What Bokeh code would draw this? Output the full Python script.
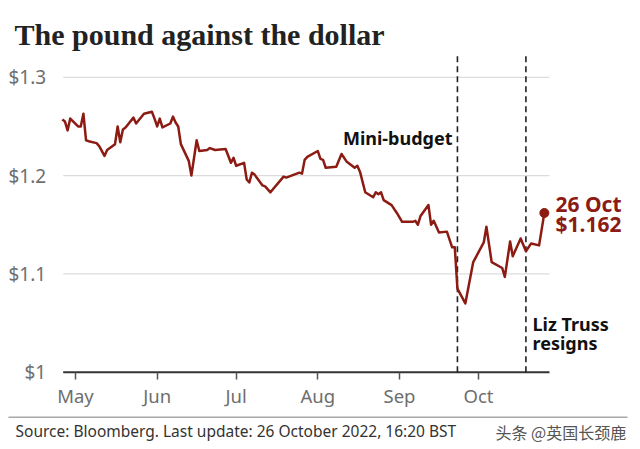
import pandas as pd
from bokeh.plotting import figure
from bokeh.models import Range1d, FixedTicker, Label, LinearAxis, DatetimeAxis
from bokeh.embed import file_html
from bokeh.resources import INLINE

# ---------------- data ----------------
dates = ["2022-04-26", "2022-04-27", "2022-04-28", "2022-04-29", "2022-05-02", "2022-05-03",
         "2022-05-04", "2022-05-05", "2022-05-06", "2022-05-09", "2022-05-10", "2022-05-12",
         "2022-05-13", "2022-05-16", "2022-05-17", "2022-05-18", "2022-05-19", "2022-05-20",
         "2022-05-23", "2022-05-24", "2022-05-27", "2022-05-30", "2022-05-31", "2022-06-01",
         "2022-06-02", "2022-06-03", "2022-06-06", "2022-06-07", "2022-06-08", "2022-06-09",
         "2022-06-10", "2022-06-13", "2022-06-14", "2022-06-16", "2022-06-17", "2022-06-20",
         "2022-06-21", "2022-06-23", "2022-06-27", "2022-06-29", "2022-06-30", "2022-07-01",
         "2022-07-04", "2022-07-05", "2022-07-06", "2022-07-07", "2022-07-08", "2022-07-11",
         "2022-07-12", "2022-07-14", "2022-07-19", "2022-07-20", "2022-07-25", "2022-07-26",
         "2022-07-27", "2022-07-28", "2022-08-01", "2022-08-02", "2022-08-03", "2022-08-04",
         "2022-08-08", "2022-08-10", "2022-08-12", "2022-08-15", "2022-08-16", "2022-08-17",
         "2022-08-19", "2022-08-22", "2022-08-23", "2022-08-24", "2022-08-25", "2022-08-26",
         "2022-08-29", "2022-08-31", "2022-09-02", "2022-09-06", "2022-09-07", "2022-09-08",
         "2022-09-09", "2022-09-12", "2022-09-13", "2022-09-14", "2022-09-16", "2022-09-19",
         "2022-09-21", "2022-09-22", "2022-09-23", "2022-09-26", "2022-09-29", "2022-10-03",
         "2022-10-04", "2022-10-06", "2022-10-10", "2022-10-11", "2022-10-13", "2022-10-14",
         "2022-10-17", "2022-10-19", "2022-10-21", "2022-10-24", "2022-10-26"]
gbp_usd = [1.257, 1.255, 1.246, 1.258, 1.250, 1.250,
           1.263, 1.236, 1.235, 1.233, 1.230, 1.220,
           1.226, 1.232, 1.250, 1.234, 1.247, 1.249,
           1.259, 1.253, 1.263, 1.265, 1.258, 1.250,
           1.258, 1.249, 1.253, 1.260, 1.254, 1.250,
           1.232, 1.215, 1.200, 1.236, 1.225, 1.226,
           1.228, 1.226, 1.227, 1.213, 1.218, 1.210,
           1.213, 1.196, 1.193, 1.203, 1.201, 1.190,
           1.189, 1.183, 1.199, 1.198, 1.203, 1.202,
           1.216, 1.219, 1.225, 1.217, 1.216, 1.208,
           1.209, 1.222, 1.214, 1.208, 1.210, 1.204,
           1.183, 1.178, 1.183, 1.181, 1.183, 1.175,
           1.170, 1.162, 1.153, 1.153, 1.154, 1.150,
           1.159, 1.170, 1.150, 1.154, 1.142, 1.143,
           1.127, 1.127, 1.085, 1.070, 1.112, 1.132,
           1.148, 1.112, 1.106, 1.097, 1.133, 1.118,
           1.136, 1.123, 1.131, 1.129, 1.162]

y_ticks = [1.0, 1.1, 1.2, 1.3]
y_tick_labels = ["$1", "$1.1", "$1.2", "$1.3"]
month_ticks = ["2022-05-01", "2022-06-01", "2022-07-01", "2022-08-01", "2022-09-01", "2022-10-01"]
month_labels = ["May", "Jun", "Jul", "Aug", "Sep", "Oct"]

event_dates = ["2022-09-23", "2022-10-19"]
title_text = "The pound against the dollar"
last_date_label = "26 Oct"
last_value_label = "$1.162"
source_text = "Source: Bloomberg. Last update: 26 October 2022, 16:20 BST"
watermark_text = "头条 @英国长颈鹿"

# ---------------- styling / geometry ----------------
RED = "#8c1b13"
SANS = "Noto Sans"
W, H = 640, 449
MAY1 = pd.Timestamp("2022-05-01")
PX_PER_DAY = 403 / 153.0     # pixels per day
PX_PER_UNIT = 983.0          # pixels per 1.0 dollar
Y_BASE_PX = 371.7            # pixel row of $1


def ms(ts):
    return pd.Timestamp(ts).value / 1e6


def px_to_x(px):
    return ms(MAY1 + pd.Timedelta(days=(px - 75) / PX_PER_DAY))


def py_to_y(py):
    return 1 + (Y_BASE_PX - py) / PX_PER_UNIT


x_dt = pd.to_datetime(dates)
plot_x0, plot_x1 = px_to_x(62.7), px_to_x(549)

p = figure(width=W, height=H,
           x_range=Range1d(px_to_x(0), px_to_x(W)),
           y_range=Range1d(py_to_y(H), py_to_y(0)),
           x_axis_location=None, y_axis_location=None,
           output_backend="svg", toolbar_location=None, min_border=0)
p.outline_line_color = None
p.background_fill_color = "white"
p.border_fill_color = "white"
p.grid.visible = False

# y axis (drawn at the left edge of the plotting area)
yax = LinearAxis(fixed_location=plot_x0, ticker=FixedTicker(ticks=y_ticks),
                 major_label_overrides={t: l for t, l in zip(y_ticks, y_tick_labels)})
yax.axis_line_color = None
yax.major_tick_line_color = None
yax.minor_tick_line_color = None
yax.major_label_standoff = 11
yax.major_label_text_font = SANS
yax.major_label_text_font_size = "19px"
yax.major_label_text_color = "#6e6e6e"
p.add_layout(yax, "left")

# x axis (drawn at $1)
x_tick_ms = [ms(d) for d in month_ticks]
xax = DatetimeAxis(fixed_location=y_ticks[0], ticker=FixedTicker(ticks=x_tick_ms),
                   major_label_overrides={t: l for t, l in zip(x_tick_ms, month_labels)})
xax.axis_line_color = None
xax.major_tick_line_color = "#555555"
xax.major_tick_line_width = 1.5
xax.major_tick_out = 7
xax.major_tick_in = 0
xax.minor_tick_line_color = None
xax.major_label_standoff = 4
xax.major_label_text_font = SANS
xax.major_label_text_font_size = "18.5px"
xax.major_label_text_color = "#6e6e6e"
p.add_layout(xax, "below")

# gridlines and baseline
p.segment(x0=[plot_x0] * 3, x1=[plot_x1] * 3, y0=y_ticks[1:], y1=y_ticks[1:],
          line_color="#dcdcdc", line_width=1.3)
p.segment(x0=[plot_x0], x1=[plot_x1], y0=[y_ticks[0]], y1=[y_ticks[0]],
          line_color="#333333", line_width=2)

# event lines
ev_ms = [ms(d) for d in event_dates]
p.segment(x0=ev_ms, x1=ev_ms, y0=[y_ticks[0]] * 2, y1=[py_to_y(52)] * 2,
          line_color="#222222", line_dash="6 4", line_width=1.6)

# series
p.line(x=x_dt, y=gbp_usd, line_color=RED, line_width=2.5, line_join="round")
p.scatter(x=[x_dt[-1]], y=[gbp_usd[-1]], size=9, color=RED)


def lab(px, py, text, size, color="#111111", bold=True, align="left", font=SANS,
        baseline="middle"):
    p.add_layout(Label(x=px_to_x(px), y=py_to_y(py), text=text, text_font=font,
                       text_font_style="bold" if bold else "normal",
                       text_font_size=size, text_color=color,
                       text_baseline=baseline, text_align=align))


lab(14, 34, title_text, "30px", color="#222222", font="Liberation Serif", baseline="alphabetic")
lab(452, 137, "Mini-budget", "18px", align="right")
lab(532, 323, "Liz Truss", "18px")
lab(532, 342, "resigns", "18px")
lab(555, 203, last_date_label, "21px", color=RED)
lab(555, 223, last_value_label, "21px", color=RED)

# footer
p.segment(x0=[px_to_x(8)], x1=[px_to_x(627)], y0=[py_to_y(416.7)], y1=[py_to_y(416.7)],
          line_color="#a8a8a8", line_width=1.5)
lab(15, 430, source_text, "15.5px", color="#333333", bold=False)
lab(495, 431, watermark_text, "16px", color="#555555", bold=False, font="Noto Sans CJK SC")

open("out.html", "w").write(file_html(p, INLINE))
